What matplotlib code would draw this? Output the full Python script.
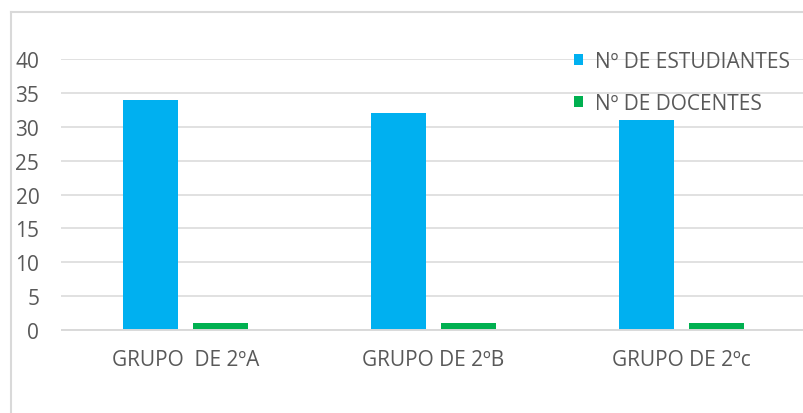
import matplotlib
matplotlib.use("Agg")
import matplotlib.pyplot as plt
from matplotlib.lines import Line2D
import numpy as np

grupos = ["GRUPO  DE 2ºA", "GRUPO DE 2ºB", "GRUPO DE 2ºc"]
estudiantes = [34, 32, 31]
docentes = [1, 1, 1]
series_names = ["Nº DE ESTUDIANTES", "Nº DE DOCENTES"]

W, H = 804, 414
fig = plt.figure(figsize=(W / 100, H / 100), dpi=100)
plt.rcParams['font.family'] = ['Open Sans', 'DejaVu Sans']
fs = 15
tc = '#595959'

# plot area runs past the right edge of the picture (cropped chart)
ax = fig.add_axes([61.5 / W, 83 / H, 744 / W, 271 / H])

x = np.arange(len(grupos))
bw = 0.222
off = 0.141
ax.bar(x - off, estudiantes, bw, color='#00B0F0', label=series_names[0], zorder=3)
ax.bar(x + off, docentes, bw, color='#00B050', label=series_names[1], zorder=3)

ax.set_xlim(-0.5, 2.5)
ax.set_ylim(0, 40)
ax.set_yticks(range(0, 41, 5))
ax.set_xticks(x)
ax.set_xticklabels(grupos)
ax.yaxis.grid(True, color='#D9D9D9', lw=1.1, zorder=0)
ax.set_axisbelow(True)
for s in ['top', 'left', 'right']:
    ax.spines[s].set_visible(False)
ax.spines['bottom'].set_color('#D9D9D9')
ax.spines['bottom'].set_linewidth(1.4)
ax.spines['bottom'].set_zorder(4)
ax.tick_params(axis='y', length=0, pad=16, labelsize=fs, labelcolor=tc)
ax.tick_params(axis='x', length=0, pad=14, labelsize=fs, labelcolor=tc)

ax.legend(loc='upper left', bbox_to_anchor=(555 / W, 1 - 33 / H),
          bbox_transform=fig.transFigure, frameon=False,
          handlelength=0.45, handleheight=0.45, handletextpad=0.55,
          labelspacing=1.0, fontsize=fs, labelcolor=tc)

# outer chart border (only left and top visible)
bc = '#D9D9D9'
fig.add_artist(Line2D([11.5 / W, 11.5 / W], [0, 1 - 13 / H], color=bc, lw=1.5))
fig.add_artist(Line2D([11.5 / W, 1], [1 - 13 / H, 1 - 13 / H], color=bc, lw=1.5))

fig.savefig("out.png", dpi=100)
